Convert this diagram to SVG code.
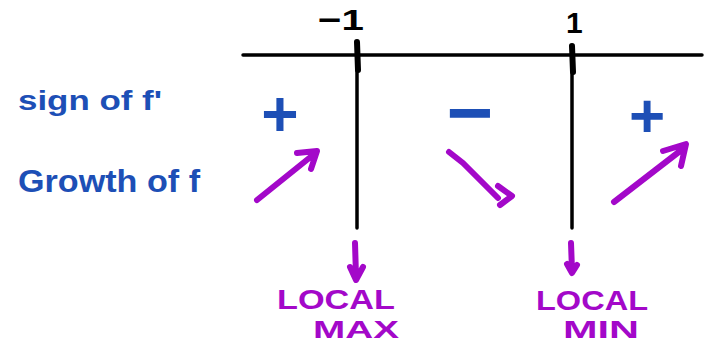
<svg xmlns="http://www.w3.org/2000/svg" width="704" height="344" viewBox="0 0 704 344">
<style>
.ink{fill:none;stroke:#000;stroke-linecap:round;stroke-linejoin:round}
.blue{fill:#1d4fb6;font-family:"Liberation Sans",Arial,sans-serif;font-weight:bold}
.sg{fill:#1d4fb6;font-family:"Liberation Sans",Arial,sans-serif;font-weight:bold;text-anchor:middle}
.pu{fill:none;stroke:#a308c9;stroke-width:6;stroke-linecap:round;stroke-linejoin:round}
.pt{fill:#a308c9;font-family:"Liberation Sans",Arial,sans-serif;font-weight:bold}
.num{fill:#000;font-family:"Liberation Sans",Arial,sans-serif;font-weight:bold}
</style>
<rect width="704" height="344" fill="#fff"/>
<g id="axis">
<path class="ink" stroke-width="3.5" d="M243 55 L702 55"/>
<path class="ink" stroke-width="3.5" d="M357 45 L357 228"/>
<path class="ink" stroke-width="6" d="M357 42 L358 70"/>
<path class="ink" stroke-width="3.5" d="M572 48 L572 228"/>
<path class="ink" stroke-width="6" d="M572 46 L573 72"/>
</g>
<g id="ticks">
<text class="num" x="318" y="30" font-size="30" textLength="46" lengthAdjust="spacingAndGlyphs">−1</text>
<text class="num" x="566" y="33" font-size="30">1</text>
</g>
<g id="labels">
<text class="blue" x="18" y="110" font-size="28" textLength="144" lengthAdjust="spacingAndGlyphs">sign of f'</text>
<text class="blue" x="18" y="192" font-size="32" textLength="182" lengthAdjust="spacingAndGlyphs">Growth of f</text>
</g>
<g id="signs">
<text class="sg" x="280" y="136" font-size="64">+</text>
<text class="sg" x="470" y="140" font-size="80">−</text>
<text class="sg" x="647" y="137" font-size="62">+</text>
</g>
<g id="growth">
<path class="pu" d="M257 200 L313 155 M297 153 L317 151 L311 169"/>
<path class="pu" d="M449 152 L463 163 L498 198 M498 186 L512 196 L500 205"/>
<path class="pu" d="M614 202 L684 148 M663 151 L686 144 L681 166"/>
</g>
<g id="extrema">
<path class="pu" d="M355 243 L356 276 M350 267 L356 280 L363 267"/>
<path class="pu" d="M571 243 L572 270 M567 264 L572 273 L577 265"/>
<text class="pt" x="277" y="309" font-size="27" textLength="118" lengthAdjust="spacingAndGlyphs">LOCAL</text>
<text class="pt" x="313" y="338" font-size="24" textLength="86" lengthAdjust="spacingAndGlyphs">MAX</text>
<text class="pt" x="536" y="310" font-size="27" textLength="112" lengthAdjust="spacingAndGlyphs">LOCAL</text>
<text class="pt" x="563" y="338" font-size="24" textLength="76" lengthAdjust="spacingAndGlyphs">MIN</text>
</g>
</svg>
